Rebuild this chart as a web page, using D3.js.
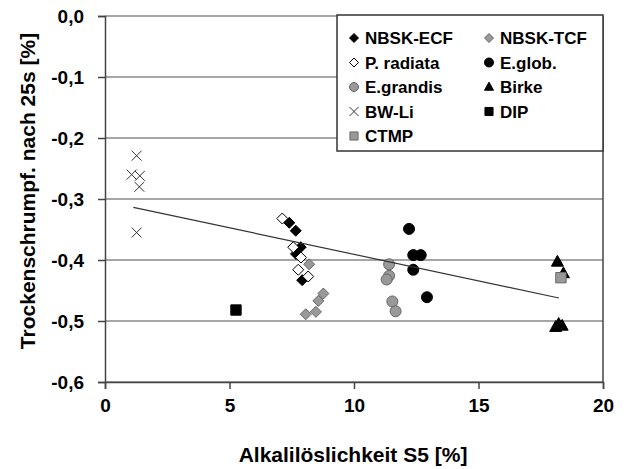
<!DOCTYPE html>
<html>
<head>
<meta charset="utf-8">
<script src="https://cdn.jsdelivr.net/npm/d3@7"></script>
<style>
  body { margin: 0; background: #fff; }
  svg { display: block; font-family: "Liberation Sans", Arial, sans-serif; font-weight: bold; }
</style>
</head>
<body>
<svg></svg>
<script>
// Trockenschrumpf vs. Alkaliloeslichkeit scatter
const width = 629;
const height = 469;

// data as [S5 %, shrinkage %]
const nbskEcf = [[7.40, -0.339], [7.66, -0.352], [7.86, -0.379], [7.67, -0.390], [7.92, -0.433]];
const nbskTcf = [[8.20, -0.407], [8.77, -0.455], [8.57, -0.467], [8.47, -0.485], [8.06, -0.489]];
const pRadiata = [[7.12, -0.332], [7.56, -0.379], [7.87, -0.396], [7.76, -0.416], [8.16, -0.427]];
const eGlob = [[12.21, -0.349], [12.38, -0.392], [12.68, -0.392], [12.38, -0.416], [12.93, -0.461]];
const eGrandis = [[11.41, -0.407], [11.41, -0.426], [11.31, -0.432], [11.54, -0.468], [11.67, -0.484]];
const birke = [[18.17, -0.403], [18.41, -0.422], [18.10, -0.510], [18.22, -0.505], [18.36, -0.508]];
const bwLi = [[1.27, -0.229], [1.07, -0.260], [1.40, -0.262], [1.38, -0.280], [1.27, -0.355]];
const dip = [[5.26, -0.482]];
const ctmp = [[18.31, -0.429]];

// linear trend over all samples
const trend = { slope: -0.0087, intercept: -0.3037, from: 1.14, to: 18.23 };

const xTicks = [0, 5, 10, 15, 20];
const yTicks = [0, -0.1, -0.2, -0.3, -0.4, -0.5, -0.6];

const series = [
  { name: "NBSK-ECF", data: nbskEcf, shape: "diamond", fill: "#000", stroke: "#000" },
  { name: "NBSK-TCF", data: nbskTcf, shape: "diamond", fill: "#999", stroke: "#666" },
  { name: "P. radiata", data: pRadiata, shape: "diamond", fill: "#fff", stroke: "#000" },
  { name: "E.glob.", data: eGlob, shape: "circle", fill: "#000", stroke: "#000" },
  { name: "E.grandis", data: eGrandis, shape: "circle", fill: "#999", stroke: "#666" },
  { name: "Birke", data: birke, shape: "triangle", fill: "#000", stroke: "#000" },
  { name: "BW-Li", data: bwLi, shape: "cross", fill: "none", stroke: "#333" },
  { name: "DIP", data: dip, shape: "square", fill: "#000", stroke: "#000" },
  { name: "CTMP", data: ctmp, shape: "square", fill: "#999", stroke: "#666" }
];

const margin = { left: 105, right: 26, top: 16, bottom: 87 };

const svg = d3.select("svg")
    .attr("width", width)
    .attr("height", height)
    .attr("viewBox", `0 0 ${width} ${height}`);

const x = d3.scaleLinear().domain([0, 20]).range([margin.left, width - margin.right]);
const y = d3.scaleLinear().domain([-0.6, 0]).range([height - margin.bottom, margin.top]);

const fmt = d => d3.format(".1f")(d).replace(".", ",").replace("−", "-");

// marker path around 0,0
function markerPath(shape, s) {
  if (shape === "diamond") {
    const r = s * 0.5;
    return `M0,${-r}L${r},0L0,${r}L${-r},0Z`;
  }
  if (shape === "circle") {
    const r = s * 0.5;
    return `M${r},0A${r},${r} 0 1,1 ${-r},0A${r},${r} 0 1,1 ${r},0Z`;
  }
  if (shape === "triangle") {
    const h = s * 0.9;
    return `M0,${-h * 0.6}L${s / 2},${h * 0.4}L${-s / 2},${h * 0.4}Z`;
  }
  if (shape === "square") {
    const r = s * 0.45;
    return `M${-r},${-r}H${r}V${r}H${-r}Z`;
  }
  const r = s * 0.45;
  return `M${-r},${-r}L${r},${r}M${r},${-r}L${-r},${r}`;
}

const sizeOf = { diamond: 11, circle: 11, triangle: 12, square: 11.5, cross: 11 };

// gridlines
svg.append("g")
  .selectAll("line")
  .data(yTicks)
  .join("line")
    .attr("x1", x(0))
    .attr("x2", x(20))
    .attr("y1", d => y(d))
    .attr("y2", d => y(d))
    .attr("stroke", "#888")
    .attr("stroke-width", 1.5);

// right border
svg.append("line")
    .attr("x1", x(20)).attr("x2", x(20))
    .attr("y1", y(0)).attr("y2", y(-0.6))
    .attr("stroke", "#444")
    .attr("stroke-width", 1.5);

// axes
const xAxis = svg.append("g")
    .attr("transform", `translate(0,${y(-0.6)})`)
    .call(d3.axisBottom(x).tickValues(xTicks).tickSize(7).tickPadding(10).tickFormat(d3.format("d")));
const yAxis = svg.append("g")
    .attr("transform", `translate(${x(0)},0)`)
    .call(d3.axisLeft(y).tickValues(yTicks).tickSize(7).tickPadding(14).tickFormat(fmt));

[xAxis, yAxis].forEach(a => {
  a.select(".domain").attr("stroke", "#444").attr("stroke-width", 1.5);
  a.selectAll(".tick line").attr("stroke", "#444").attr("stroke-width", 1.5);
  a.selectAll("text")
    .attr("fill", "#000")
    .style("font-family", "'Liberation Sans', Arial, sans-serif")
    .style("font-weight", "bold")
    .style("font-size", "19px");
});
yAxis.selectAll("text").attr("dy", "0.36em");

// axis titles
svg.append("text")
    .attr("x", 353)
    .attr("y", 462)
    .attr("text-anchor", "middle")
    .style("font-size", "21px")
    .text("Alkalilöslichkeit S5 [%]");

svg.append("text")
    .attr("transform", `translate(35,${(y(0) + y(-0.6)) / 2 - 8}) rotate(-90)`)
    .attr("text-anchor", "middle")
    .style("font-size", "21px")
    .text("Trockenschrumpf. nach 25s [%]");

// points
series.forEach(s => {
  svg.append("g")
    .selectAll("path")
    .data(s.data)
    .join("path")
      .attr("transform", d => `translate(${x(d[0])},${y(d[1])})`)
      .attr("d", markerPath(s.shape, sizeOf[s.shape]))
      .attr("fill", s.fill)
      .attr("stroke", s.stroke)
      .attr("stroke-width", 1);
});

// trend line
svg.append("line")
    .attr("x1", x(trend.from))
    .attr("y1", y(trend.intercept + trend.slope * trend.from))
    .attr("x2", x(trend.to))
    .attr("y2", y(trend.intercept + trend.slope * trend.to))
    .attr("stroke", "#333")
    .attr("stroke-width", 1.2);

// legend
const lg = svg.append("g").attr("transform", "translate(337,15)");
lg.append("rect")
    .attr("width", 266)
    .attr("height", 136)
    .attr("fill", "#fff")
    .attr("stroke", "#333")
    .attr("stroke-width", 1.5);

const item = lg.selectAll("g.item")
  .data(series)
  .join("g")
    .attr("class", "item")
    .attr("transform", (d, i) => `translate(${i % 2 === 0 ? 17 : 152},${23 + Math.floor(i / 2) * 24.5})`);

item.append("path")
    .attr("d", d => markerPath(d.shape, d.shape === "cross" ? 10 : 9))
    .attr("fill", d => d.fill)
    .attr("stroke", d => d.stroke)
    .attr("stroke-width", 1);

item.append("text")
    .attr("x", 11)
    .attr("dy", "0.36em")
    .style("font-size", "17px")
    .text(d => d.name);
</script>
</body>
</html>
